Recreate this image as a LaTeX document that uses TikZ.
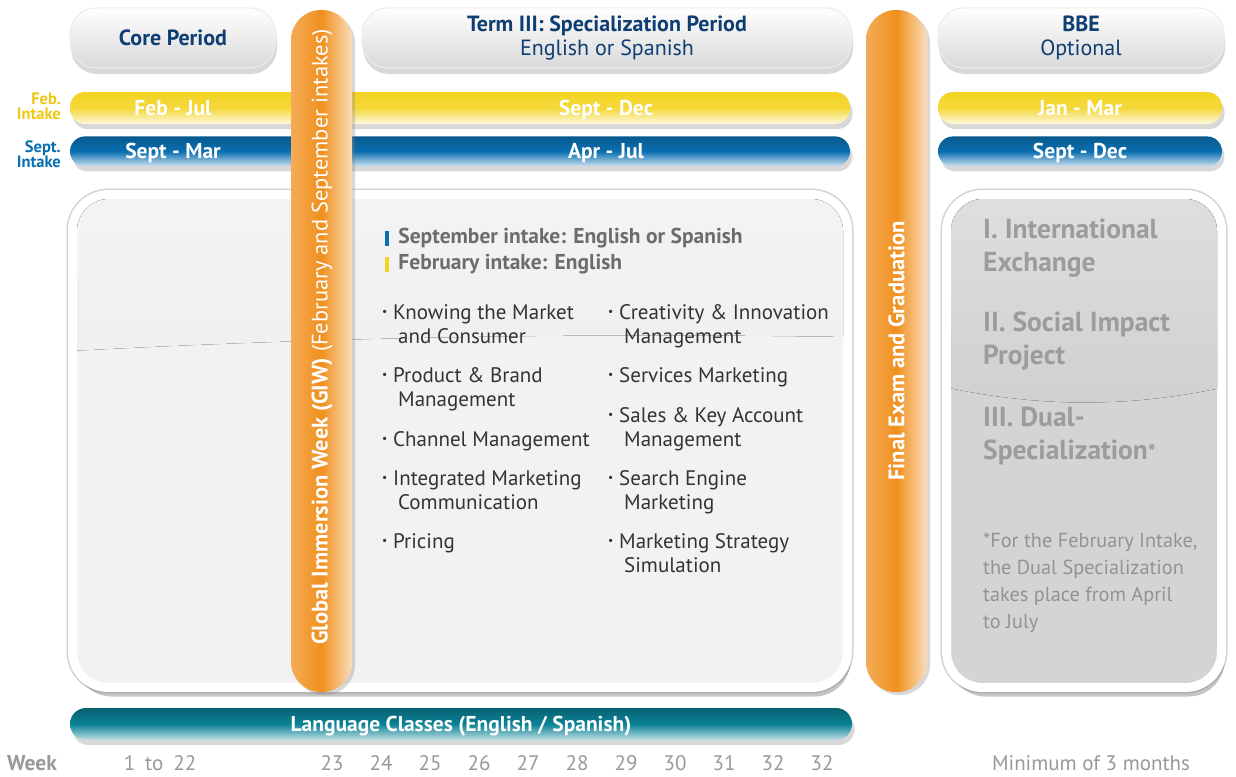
\documentclass[tikz,border=0pt]{standalone}
\usepackage{fontspec}
\setmainfont{PT Sans}
\usetikzlibrary{shapes,positioning,calc,shadows}
\usepackage{xcolor}

\definecolor{headnavy}{HTML}{0E3E72}
\definecolor{febyellow}{HTML}{F3D424}
\definecolor{febgold}{HTML}{EEC816}
\definecolor{septblue}{HTML}{0A6FB0}
\definecolor{giworange}{HTML}{F0901E}
\definecolor{langteal}{HTML}{0A8296}
\definecolor{listgray}{HTML}{333333}
\newcommand{\listdot}{\makebox[11pt][l]{\raisebox{0.3ex}{\scalebox{0.55}{\textbullet}}}}
\newcommand{\listgap}{\hspace*{16pt}}

\begin{document}
\begin{tikzpicture}[x=1pt,y=-1pt]

	\tikzstyle{headbox}=[rectangle, rounded corners=26pt, minimum height=60pt, inner sep=0pt, top color=white, bottom color=gray!30, draw=gray!15, line width=1pt, drop shadow={opacity=0.3, shadow xshift=1pt, shadow yshift=-6pt}, text=headnavy, align=center, font=\fontsize{22}{24}\selectfont];
	\tikzstyle{febbar}=[rectangle, rounded corners=15pt, minimum height=32pt, inner sep=0pt, top color=febyellow, bottom color=febyellow!15!white, middle color=febyellow!90!white, drop shadow={opacity=0.3, shadow yshift=-5pt}];
	\tikzstyle{septbar}=[rectangle, rounded corners=15pt, minimum height=30pt, inner sep=0pt, top color=septblue!80!black, bottom color=septblue!20!white, middle color=septblue, drop shadow={opacity=0.3, shadow yshift=-5pt}];
	\tikzstyle{barlabel}=[text=white, text height=15pt, text depth=0pt, font=\fontsize{21.5}{22}\selectfont\bfseries];
	\tikzstyle{panel}=[rectangle, rounded corners=36pt, draw=white, line width=9pt, outer sep=0pt, preaction={draw=gray!35, line width=12pt}, drop shadow={opacity=0.45, shadow xshift=3pt, shadow yshift=-9pt}];
	\tikzstyle{pillar}=[rectangle, rounded corners=30pt, minimum width=61pt, minimum height=682pt, inner sep=0pt, left color=giworange!75!white, right color=giworange!30!white, middle color=giworange, drop shadow={opacity=0.3, shadow xshift=3pt, shadow yshift=-3pt}];
	\tikzstyle{pillartext}=[rotate=90, text=white, font=\fontsize{22.5}{24}\selectfont];
	\tikzstyle{listitem}=[anchor=base west, align=left, inner sep=0pt, text=listgray, font=\fontsize{21}{24}\selectfont];
	\tikzstyle{sidehead}=[anchor=base west, align=left, inner sep=0pt, text=gray!78, font=\fontsize{27.5}{33}\selectfont\bfseries];
	\tikzstyle{weeknum}=[text=gray!80, font=\fontsize{21}{22}\selectfont];

	\useasboundingbox (0,0) rectangle (1236,776);
	\fill[white] (0,0) rectangle (1236,776);

	% period headers
	\node (core_period) at (173,38) [headbox, minimum width=206pt]{\bfseries Core Period};
	\node (term_three) at (607,38) [headbox, minimum width=490pt]{\bfseries Term III: Specialization Period\\English or Spanish};
	\node (bbe) at (1081,38) [headbox, minimum width=286pt]{\bfseries BBE\\Optional};

	% intake bars
	\node (feb_main) at (460,108) [febbar, minimum width=780pt]{};
	\node (sept_main) [below = 12pt of feb_main, septbar, minimum width=780pt]{};
	\node (feb_bbe) at (1080,108) [febbar, minimum width=284pt]{};
	\node (sept_bbe) [below = 12pt of feb_bbe, septbar, minimum width=284pt]{};
	\node (feb_core_txt) at (173,108) [barlabel]{Feb - Jul};
	\node (feb_term_txt) at (606,108) [barlabel]{Sept - Dec};
	\node (feb_bbe_txt) at (feb_bbe) [barlabel]{Jan - Mar};
	\node (sept_core_txt) at (173,0 |- sept_main) [barlabel]{Sept - Mar};
	\node (sept_term_txt) at (606,0 |- sept_main) [barlabel]{Apr - Jul};
	\node (sept_bbe_txt) at (sept_bbe) [barlabel]{Sept - Dec};
	\node (feb_label) at (61,106) [anchor=east, align=right, inner sep=0pt, text=febgold, font=\fontsize{16.5}{15}\selectfont\bfseries]{Feb.\\Intake};
	\node (sept_label) at (61,154) [anchor=east, align=right, inner sep=0pt, text=septblue, font=\fontsize{16.5}{15}\selectfont\bfseries]{Sept.\\Intake};

	% panels
	\node (mid_panel) at (460,441) [panel, minimum width=775pt, minimum height=493pt, fill=gray!10]{};
	\begin{scope}
		\clip[rounded corners=32pt] ($(mid_panel.north west)+(4.5,4.5)$) rectangle ($(mid_panel.south east)+(-4.5,-4.5)$);
		\fill[top color=gray!9, bottom color=gray!12] (70,190) -- (850,190) -- (850,337) .. controls (600,333) and (350,336) .. (70,351) -- cycle;
	\end{scope}
	\node (side_panel) at (1084,441) [panel, minimum width=275pt, minimum height=493pt, fill=gray!34]{};
	\begin{scope}
		\clip[rounded corners=32pt] ($(side_panel.north west)+(4.5,4.5)$) rectangle ($(side_panel.south east)+(-4.5,-4.5)$);
		\fill[top color=gray!25, bottom color=gray!37] (940,190) -- (1230,190) -- (1230,386) .. controls (1130,408) and (1040,408) .. (940,386) -- cycle;
	\end{scope}

	% language classes
	\node (lang_bar) at (461,724) [rectangle, rounded corners=16pt, minimum width=782pt, minimum height=32pt, inner sep=0pt, top color=langteal!75!black, bottom color=langteal!25!white, middle color=langteal, drop shadow={opacity=0.3, shadow yshift=-5pt}]{};
	\node (lang_txt) at (lang_bar) [barlabel]{Language Classes (English / Spanish)};

	% pillars
	\node (giw_bar) at (321.5,351) [pillar]{};
	\node (giw_txt) at (322,337) [pillartext]{\textbf{Global Immersion Week (GIW)} (February and September intakes)};
	\node (exam_bar) at (896.5,351) [pillar]{};
	\node (exam_txt) at (exam_bar) [pillartext, font=\fontsize{22.5}{24}\selectfont\bfseries]{Final Exam and Graduation};

	% legend
	\node (sept_key) at (387,238) [fill=septblue, minimum width=4pt, minimum height=15pt, inner sep=0pt]{};
	\node (feb_key) at (387,264) [fill=febyellow, minimum width=4pt, minimum height=15pt, inner sep=0pt]{};
	\node (sept_legend) [right = 9pt of sept_key, inner sep=0pt, text=gray!85!black, font=\fontsize{21.5}{22}\selectfont\bfseries]{September intake: English or Spanish};
	\node (feb_legend) [right = 9pt of feb_key, inner sep=0pt, text=gray!85!black, font=\fontsize{21.5}{22}\selectfont\bfseries]{February intake: English};

	% course list
	\node (c_market) at (382,343) [listitem]{\listdot Knowing the Market\\\listgap and Consumer};
	\node (c_brand) at (382,406) [listitem]{\listdot Product \& Brand\\\listgap Management};
	\node (c_channel) at (382,446) [listitem]{\listdot Channel Management};
	\node (c_imc) at (382,509) [listitem]{\listdot Integrated Marketing\\\listgap Communication};
	\node (c_pricing) at (382,548) [listitem]{\listdot Pricing};
	\node (c_innov) at (608,343) [listitem]{\listdot Creativity \& Innovation\\\listgap Management};
	\node (c_services) at (608,382) [listitem]{\listdot Services Marketing};
	\node (c_sales) at (608,446) [listitem]{\listdot Sales \& Key Account\\\listgap Management};
	\node (c_search) at (608,509) [listitem]{\listdot Search Engine\\\listgap Marketing};
	\node (c_strategy) at (608,572) [listitem]{\listdot Marketing Strategy\\\listgap Simulation};

	% BBE options
	\node (opt_exchange) at (983,271.5) [sidehead]{I. International\\Exchange};
	\node (opt_social) at (983,364.5) [sidehead]{II. Social Impact\\Project};
	\node (opt_dual) at (983,459.5) [sidehead]{III. Dual-\\Specialization{\fontsize{21}{21}\selectfont*}};
	\node (opt_note) at (983,628) [anchor=base west, align=left, inner sep=0pt, text=gray!85, font=\fontsize{20.3}{26.7}\selectfont]{*For the February Intake,\\the Dual Specialization\\takes place from April\\to July};

	% week scale
	\node (wk_title) at (32,763) [weeknum, font=\fontsize{21.5}{22}\selectfont\bfseries]{Week};
	\node (wk_core) at (160,763) [weeknum]{1\hspace{10pt}to\hspace{10pt}22};
	\foreach \wk [count=\i from 0] in {23,...,32,32}
		\node (wk\i) at ({332+49*\i},763) [weeknum]{\wk};
	\node (wk_bbe) at (1091,763) [weeknum]{Minimum of 3 months};

\end{tikzpicture}
\end{document}
